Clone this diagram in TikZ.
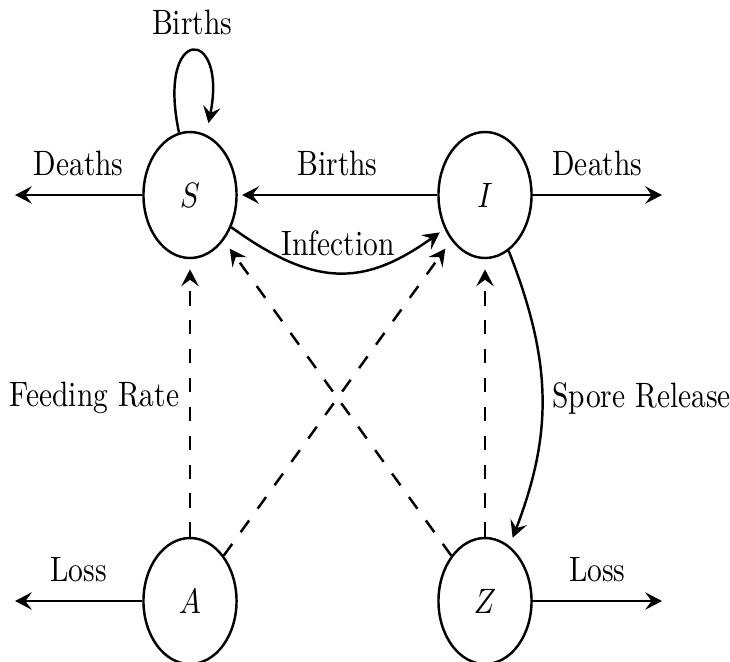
\documentclass[tikz,border=0pt]{standalone}
\usepackage{graphicx}
\usetikzlibrary{shapes.geometric,arrows.meta}
\newcommand\stx[1]{\scalebox{1.02}[1.22]{#1}}
\begin{document}
\tikzset{
  state/.style={draw, ellipse, line width=0.85pt, minimum width=32.2pt, minimum height=43.6pt, inner sep=0pt},
  flow/.style={line width=0.85pt, -{Stealth[length=5.8pt,width=6pt,inset=2.2pt]}},
  infl/.style={flow, dash pattern=on 5pt off 5pt, shorten >=3.5pt},
  lab/.style={above=2.9pt}
}
\begin{tikzpicture}[x=0.346pt,y=-0.346pt]
\useasboundingbox (0,0) rectangle (730,661);
\node[state] (S) at (190,195) {\stx{$S$}};
\node[state] (I) at (485,195) {\stx{$I$}};
\node[state] (A) at (190,601) {\stx{$A$}};
\node[state] (Z) at (485,601) {\stx{$Z$}};
\coordinate (dL) at (15,195);
\coordinate (dR) at (662,195);
\coordinate (lL) at (15,601);
\coordinate (lR) at (662,601);
% outflows
\draw[flow] (S.west) -- node[lab]{\stx{Deaths}} (dL);
\draw[flow] (I.east) -- node[lab]{\stx{Deaths}} (dR);
\draw[flow] (A.west) -- node[lab]{\stx{Loss}} (lL);
\draw[flow] (Z.east) -- node[lab]{\stx{Loss}} (lR);
% births
\draw[flow, shorten >=1.5pt] (I.west) -- node[lab]{\stx{Births}} (S.east);
\draw[flow, shorten >=4pt] (S.100) .. controls (156,24) and (228,26) .. node[pos=0.5, above=2.2pt]{\stx{Births}} (S.75);
% infection
\draw[flow, shorten >=2pt] (S.-38) .. controls +(82,59) and +(-82,59) .. node[pos=0.5, above=2.1pt]{\stx{Infection}} (I.-140);
% spore release
\draw[flow, shorten >=3pt] (I.-67) .. controls +(44,112) and +(43,-112) .. node[pos=0.5, right]{\stx{Spore Release}} (Z.66);
% feeding (dashed)
\draw[infl] (A.north) -- node[left]{\stx{Feeding Rate}} (S.south);
\draw[infl] (A.north east) -- (I.south west);
\draw[infl] (Z.north west) -- (S.south east);
\draw[infl] (Z.north) -- (I.south);
\end{tikzpicture}
\end{document}
